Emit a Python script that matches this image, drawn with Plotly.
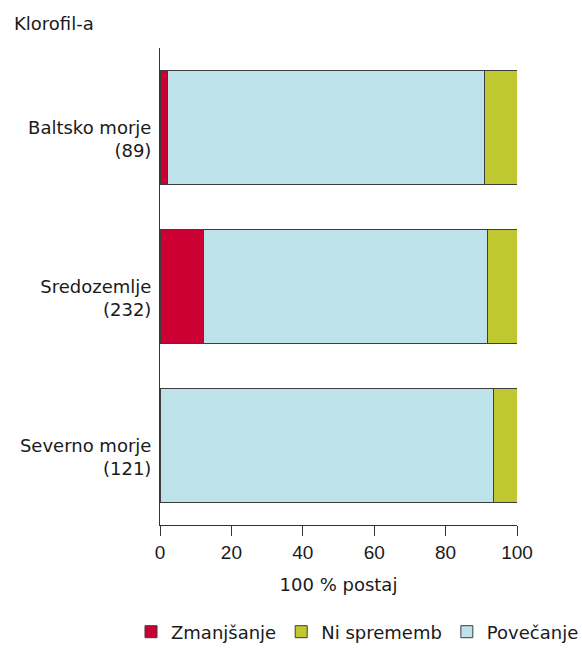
import plotly.graph_objects as go

# Share of monitoring stations (%) by chlorophyll-a trend, per sea region
regions = ["Baltsko morje<br>(89)", "Sredozemlje<br>(232)", "Severno morje<br>(121)"]
zmanjsanje = [2.2, 12.1, 0.0]     # decrease
povecanje = [88.8, 79.7, 93.4]    # increase
ni_sprememb = [9.0, 8.2, 6.6]     # no change

FONT = "DejaVu Sans, Verdana, sans-serif"
OUTLINE = dict(color="#3d3d3d", width=1)

fig = go.Figure()
fig.add_trace(go.Bar(y=regions, x=zmanjsanje, name="Zmanjšanje", orientation="h",
                     marker=dict(color="#cc0033", line=OUTLINE), legendrank=1))
fig.add_trace(go.Bar(y=regions, x=povecanje, name="Povečanje", orientation="h",
                     marker=dict(color="#bde2e9", line=OUTLINE), legendrank=3))
fig.add_trace(go.Bar(y=regions, x=ni_sprememb, name="Ni sprememb", orientation="h",
                     marker=dict(color="#bfc830", line=OUTLINE), legendrank=2))

W, H = 582, 648
PW, PH = 357, 477  # plot area size in px

fig.update_layout(
    width=W, height=H,
    barmode="stack", bargap=0.28,
    plot_bgcolor="white", paper_bgcolor="white",
    margin=dict(l=160, r=65, t=48, b=123, autoexpand=False),
    font=dict(family=FONT, size=18, color="#1a1a1a"),
    annotations=[dict(text="Klorofil-a", xref="paper", yref="paper",
                      x=(12 - 160) / PW, y=1 + 25 / PH, xanchor="left", yanchor="middle",
                      showarrow=False, font=dict(size=18))],
    xaxis=dict(range=[0, 100], tickvals=[0, 20, 40, 60, 80, 100],
               showline=True, linecolor="#333", linewidth=1,
               ticks="outside", ticklen=10, tickcolor="#333",
               showgrid=False, zeroline=False,
               title=dict(text="100 % postaj", font=dict(size=18), standoff=16),
               tickfont=dict(family="Liberation Sans, Arial, sans-serif", size=19)),
    yaxis=dict(autorange="reversed", showline=True, linecolor="#333", linewidth=1,
               ticks="", showgrid=False, tickfont=dict(size=18),
               ticklabelstandoff=4, ticklabelshift=-12),
    legend=dict(orientation="h", xref="paper", yref="paper",
                x=(131 - 160) / PW, y=(525 - 632) / PH, xanchor="left", yanchor="middle",
                font=dict(size=18), traceorder="normal", itemwidth=30),
    showlegend=True,
)

fig.write_html("out.html")
